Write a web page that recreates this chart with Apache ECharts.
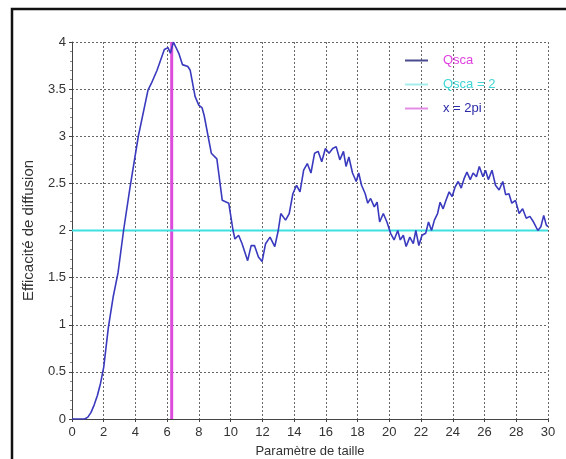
<!DOCTYPE html>
<html>
<head>
<meta charset="utf-8">
<script src="https://cdn.jsdelivr.net/npm/echarts@6/dist/echarts.min.js"></script>
<style>
  html, body { margin: 0; padding: 0; background: #fff; }
  #chart { width: 566px; height: 459px; }
</style>
</head>
<body>
<div id="chart"></div>
<script>
// Qsca vs taille
const qscaX = [0, 0.8, 1.0, 1.2, 1.4, 1.6, 1.8, 2.0, 2.29, 2.6, 2.9, 3.25, 3.65, 4.18, 4.79, 5.0, 5.36, 5.82, 6.05, 6.2, 6.39,
  6.73, 6.96, 7.3, 7.45, 7.76, 7.99, 8.2, 8.33, 8.78, 9.13, 9.47, 9.88, 10.15, 10.27, 10.5, 10.72,
  11.07, 11.29, 11.5, 11.75, 11.98, 12.2, 12.48, 12.78, 13.0, 13.16, 13.46, 13.69, 13.92, 14.15,
  14.37, 14.6, 14.83, 15.06, 15.29, 15.51, 15.74, 15.97, 16.2, 16.43, 16.65, 16.88, 17.11, 17.27,
  17.45, 17.68, 17.91, 18.07, 18.25, 18.48, 18.64, 18.82, 19.05, 19.23, 19.39, 19.62, 19.85, 20.08,
  20.3, 20.53, 20.69, 20.88, 21.06, 21.29, 21.51, 21.67, 21.86, 22.06, 22.29, 22.47, 22.66, 22.84,
  23.04, 23.2, 23.39, 23.57, 23.77, 23.96, 24.14, 24.34, 24.53, 24.71, 24.89, 25.1, 25.28, 25.49,
  25.67, 25.9, 26.06, 26.24, 26.47, 26.69, 26.92, 27.15, 27.33, 27.54, 27.72, 27.95, 28.18, 28.4,
  28.63, 28.86, 29.09, 29.36, 29.55, 29.73, 29.89, 30];
const qscaY = [0, 0, 0.02, 0.07, 0.15, 0.25, 0.38, 0.55, 0.97, 1.3, 1.55, 2.0, 2.45, 3.0, 3.49, 3.56, 3.7, 3.92, 3.94, 3.88, 4.0,
  3.88, 3.76, 3.74, 3.7, 3.42, 3.33, 3.3, 3.22, 2.82, 2.76, 2.32, 2.29, 2.0, 1.91, 1.95, 1.86,
  1.68, 1.84, 1.84, 1.72, 1.67, 1.86, 1.93, 1.83, 2.0, 2.18, 2.11, 2.18, 2.39, 2.48,
  2.41, 2.64, 2.71, 2.61, 2.82, 2.84, 2.73, 2.87, 2.82, 2.87, 2.89, 2.75, 2.84, 2.68,
  2.78, 2.61, 2.52, 2.61, 2.48, 2.39, 2.29, 2.34, 2.25, 2.3, 2.09, 2.18, 2.09, 1.97,
  1.9, 2.0, 1.9, 1.95, 1.83, 1.93, 1.86, 2.0, 1.84, 1.95, 1.97, 2.09, 2.0, 2.11,
  2.18, 2.3, 2.23, 2.32, 2.41, 2.36, 2.46, 2.52, 2.45, 2.55, 2.62, 2.54, 2.61, 2.57,
  2.68, 2.57, 2.64, 2.54, 2.64, 2.48, 2.43, 2.52, 2.38, 2.39, 2.29, 2.32, 2.18, 2.23,
  2.13, 2.15, 2.09, 2.0, 2.04, 2.16, 2.06, 2.04];

const seuilX = [0, 30];
const seuilY = [2, 2];
const deuxPiX = [2 * Math.PI, 2 * Math.PI];
const deuxPiY = [0, 4];

const legendNames = ['Qsca', 'Qsca = 2', 'x = 2pi'];
const legendTextColors = ['#e040e0', '#3fd6d6', '#2a2aa8'];

const font = 'Liberation Sans, Arial, sans-serif';
const zip = (xs, ys) => xs.map((x, i) => [x, ys[i]]);

const chart = echarts.init(document.getElementById('chart'));

const gridLine = { show: true, lineStyle: { color: '#666', type: [2, 2], width: 1 } };

const option = {
  backgroundColor: '#fff',
  animation: false,
  grid: { left: 72, right: 18, top: 42, bottom: 40, containLabel: false, outerBoundsMode: 'none' },
  legend: {
    orient: 'vertical',
    left: 400,
    top: 49,
    itemGap: 11,
    itemWidth: 23,
    itemHeight: 2,
    icon: 'rect',
    textStyle: { fontFamily: font, fontSize: 13, padding: [0, 0, 0, 10] },
    data: legendNames.map((n, i) => ({ name: n, textStyle: { color: legendTextColors[i] } }))
  },
  xAxis: {
    type: 'value',
    min: 0,
    max: 30,
    interval: 2,
    name: 'Paramètre de taille',
    nameLocation: 'middle',
    nameGap: 26,
    nameTextStyle: { fontFamily: font, fontSize: 13, color: '#333' },
    axisLine: { show: true, lineStyle: { color: '#444', width: 1 } },
    axisTick: { show: true, inside: false, length: 3, lineStyle: { color: '#444' } },
    axisLabel: { fontFamily: font, fontSize: 13, color: '#333', margin: 7 },
    splitLine: gridLine
  },
  yAxis: {
    type: 'value',
    min: 0,
    max: 4,
    interval: 0.5,
    name: 'Efficacité de diffusion',
    nameLocation: 'middle',
    nameGap: 36,
    nameTextStyle: { fontFamily: font, fontSize: 15, color: '#333' },
    axisLine: { show: true, lineStyle: { color: '#444', width: 1 } },
    axisTick: { show: true, inside: false, length: 3, lineStyle: { color: '#444' } },
    minorTick: { show: true, splitNumber: 5, length: 2, lineStyle: { color: '#888' } },
    axisLabel: { fontFamily: font, fontSize: 13, color: '#333', margin: 6 },
    splitLine: gridLine
  },
  graphic: [
    {
      type: 'rect',
      shape: { x: 12, y: 9, width: 620, height: 520 },
      style: { fill: 'none', stroke: '#111', lineWidth: 2.5 },
      silent: true
    }
  ],
  series: [
    {
      name: 'x = 2pi',
      type: 'line',
      data: zip(deuxPiX, deuxPiY),
      symbol: 'none',
      color: '#e58ce5',
      lineStyle: { color: '#dc4cdc', width: 3 },
      z: 2
    },
    {
      name: 'Qsca = 2',
      type: 'line',
      data: zip(seuilX, seuilY),
      symbol: 'none',
      color: '#a6ecec',
      lineStyle: { color: '#3fe0e0', width: 2 },
      z: 3
    },
    {
      name: 'Qsca',
      type: 'line',
      data: zip(qscaX, qscaY),
      symbol: 'none',
      color: '#4a4a90',
      lineStyle: { color: '#3a3abf', width: 1.6 },
      z: 4
    }
  ]
};

chart.setOption(option);
</script>
</body>
</html>
